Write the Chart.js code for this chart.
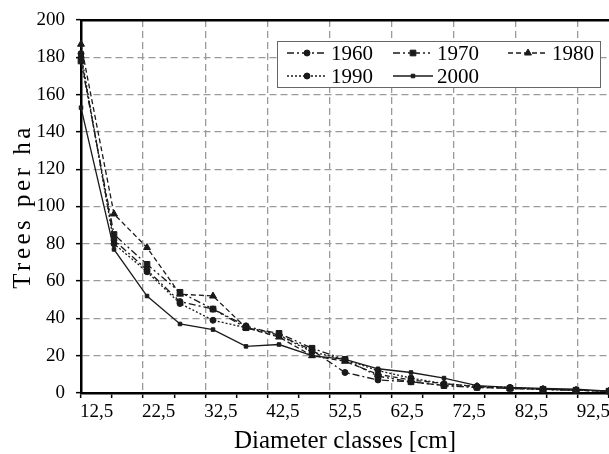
<!DOCTYPE html>
<html>
<head>
<meta charset="utf-8">
<script src="https://cdn.jsdelivr.net/npm/chart.js@4"></script>
<style>
body { margin: 0; background: #fff; }
</style>
</head>
<body>
<canvas id="trees-chart" width="609" height="454"></canvas>
<script>
// diameter class midpoints (cm)
var diameters = [12.5, 17.5, 22.5, 27.5, 32.5, 37.5, 42.5, 47.5, 52.5, 57.5, 62.5, 67.5, 72.5, 77.5, 82.5, 87.5, 92.5];
var xTickLabels = ['12,5', '', '22,5', '', '32,5', '', '42,5', '', '52,5', '', '62,5', '', '72,5', '', '82,5', '', '92,5'];

var trees1960 = [180, 82, 66, 49, 45, 36, 31, 23, 11, 7, 6, 4, 3, 2.5, 2, 1.5, 1];
var trees1970 = [178, 85, 69, 54, 45, 35, 32, 24, 18, 9, 6, 4, 3, 2.5, 2, 1.5, 1];
var trees1980 = [187, 96, 78, 53, 52, 35, 30, 20, 17, 10, 7, 5, 3.5, 2.5, 2, 1.5, 1];
var trees1990 = [182, 80, 65, 48, 39, 35, 31, 22, 18, 12, 8, 5, 3.5, 3, 2, 1.5, 1];
var trees2000 = [153, 77, 52, 37, 34, 25, 26, 20, 18, 13, 11, 8, 4, 3, 2.5, 2, 1];

var serif = '"Liberation Serif", "Times New Roman", serif';
var gridGrey = '#9a9a9a';

function points(values) {
    return values.map(function (v, i) { return { x: diameters[i], y: v }; });
}

function series(label, values, dash, style, radius) {
    return {
        label: label,
        data: points(values),
        xAxisID: 'xData',
        borderColor: '#1a1a1a',
        borderWidth: 1.3,
        borderDash: dash,
        pointStyle: style,
        pointRadius: radius,
        pointBackgroundColor: '#1a1a1a',
        pointBorderColor: '#1a1a1a',
        pointBorderWidth: 1,
        tension: 0,
        clip: false
    };
}

// legend drawn as a boxed two-row key, like the original
var legendBox = {
    id: 'legendBox',
    afterDraw: function (chart) {
        var ctx = chart.ctx;
        var ca = chart.chartArea;
        var left = ca.right - 332, top = ca.top + 21;
        var slots = [[10, 12], [116, 12], [231, 12], [10, 35], [116, 35]];
        ctx.save();
        ctx.fillStyle = '#fff';
        ctx.fillRect(left, top, 323, 46);
        ctx.strokeStyle = '#666';
        ctx.lineWidth = 1;
        ctx.strokeRect(left + 0.5, top + 0.5, 323, 46);
        chart.data.datasets.forEach(function (ds, i) {
            var x = left + slots[i][0], y = top + slots[i][1];
            ctx.strokeStyle = ds.borderColor;
            ctx.lineWidth = ds.borderWidth;
            ctx.setLineDash(ds.borderDash || []);
            ctx.beginPath();
            ctx.moveTo(x, y);
            ctx.lineTo(x + 40, y);
            ctx.stroke();
            ctx.setLineDash([]);
            ctx.fillStyle = ds.pointBackgroundColor;
            ctx.strokeStyle = ds.pointBorderColor;
            ctx.lineWidth = 1;
            Chart.helpers.drawPoint(ctx, { pointStyle: ds.pointStyle, radius: ds.pointRadius, borderWidth: 1, rotation: 0 }, x + 20, y);
            ctx.fillStyle = '#000';
            ctx.font = '21px ' + serif;
            ctx.textBaseline = 'middle';
            ctx.textAlign = 'left';
            ctx.fillText(ds.label, x + 44, y + 1);
        });
        ctx.restore();
    }
};

var ctx = document.getElementById('trees-chart');

var treesChart = new Chart(ctx, {
    type: 'line',
    data: {
        datasets: [
            series('1960', trees1960, [7, 3, 2, 3], 'circle', 3),
            series('1970', trees1970, [7, 3, 2, 3, 2, 3], 'rect', 4),
            series('1980', trees1980, [5, 3], 'triangle', 4),
            series('1990', trees1990, [2, 2], 'circle', 3),
            series('2000', trees2000, [], 'rect', 2.5)
        ]
    },
    options: {
        responsive: false,
        animation: false,
        layout: { autoPadding: false, padding: { top: 20, right: 0, bottom: 0, left: 0 } },
        plugins: {
            legend: { display: false },
            tooltip: { enabled: false }
        },
        scales: {
            xData: {
                type: 'linear',
                position: 'top',
                min: 12.5,
                max: 92.5,
                ticks: { display: false },
                grid: { display: false, drawTicks: false },
                border: { color: '#000', width: 2.5 },
                afterFit: function (s) { s.height = 0; s.paddingLeft = 0; s.paddingRight = 0; }
            },
            x: {
                type: 'category',
                labels: xTickLabels,
                position: 'bottom',
                offset: true,
                ticks: {
                    autoSkip: false,
                    maxRotation: 0,
                    color: '#000',
                    padding: 3,
                    font: { family: serif, size: 19 }
                },
                grid: {
                    offset: true,
                    color: function (c) { return (c.index % 2 === 0 && c.index > 0) ? gridGrey : 'rgba(0,0,0,0)'; },
                    lineWidth: 1.3,
                    tickColor: '#000',
                    tickLength: 5,
                    tickWidth: 1.5
                },
                border: { color: '#000', width: 2.5, dash: [7, 4] },
                title: {
                    display: true,
                    text: 'Diameter classes [cm]',
                    color: '#000',
                    font: { family: serif, size: 25 },
                    padding: { top: 0, bottom: -2 }
                },
                afterFit: function (s) { s.height = 61; s.paddingLeft = 0; s.paddingRight = 0; }
            },
            y: {
                min: 0,
                max: 200,
                ticks: {
                    stepSize: 20,
                    color: '#000',
                    padding: 11,
                    font: { family: serif, size: 19 }
                },
                grid: {
                    color: function (c) { return (c.tick && (c.tick.value === 0 || c.tick.value === 200)) ? 'rgba(0,0,0,0)' : gridGrey; },
                    lineWidth: 1.3,
                    tickColor: '#000',
                    tickLength: 5,
                    tickWidth: 1.5
                },
                border: { color: '#000', width: 2.5, dash: [7, 4] },
                title: {
                    display: true,
                    text: 'Trees per ha',
                    color: '#000',
                    font: { family: serif, size: 25 },
                    padding: { top: 8, bottom: 0 }
                },
                afterFit: function (s) {
                    s.width = 81; s.paddingTop = 0; s.paddingBottom = 0;
                    if (!s._spaced) {
                        var drawTitle = s.drawTitle;
                        s.drawTitle = function () {
                            this.ctx.save();
                            this.ctx.letterSpacing = '3.5px';
                            drawTitle.call(this);
                            this.ctx.restore();
                        };
                        s._spaced = true;
                    }
                }
            }
        }
    },
    plugins: [legendBox]
});
</script>
</body>
</html>
